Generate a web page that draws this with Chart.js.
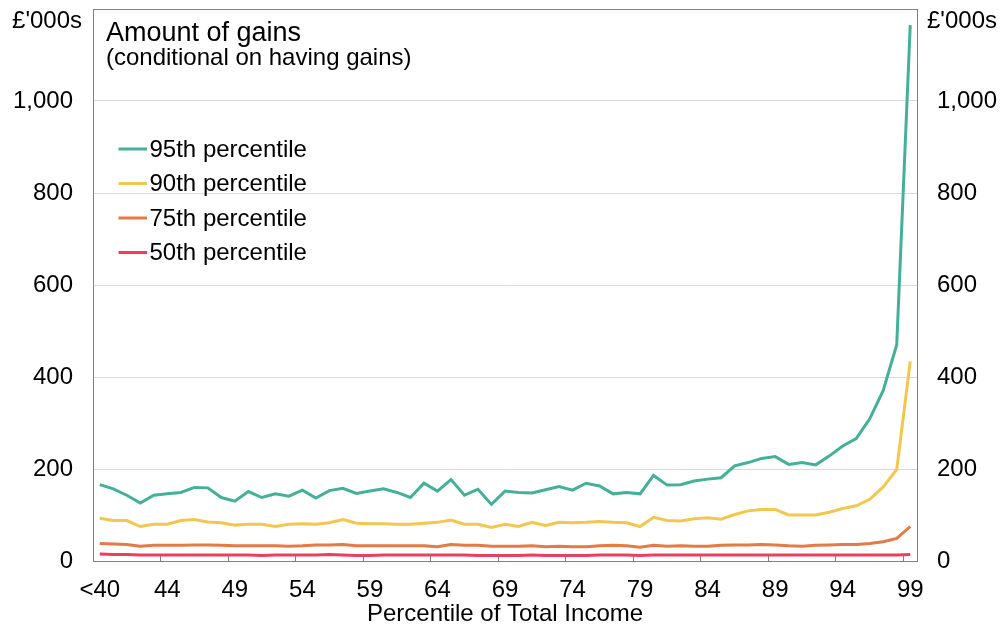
<!DOCTYPE html>
<html>
<head>
<meta charset="utf-8">
<script src="https://cdn.jsdelivr.net/npm/chart.js@4.4.1/dist/chart.umd.min.js"></script>
<style>
  html, body { margin: 0; padding: 0; background: #fff; }
  #wrap { width: 1004px; height: 629px; position: relative; }
</style>
</head>
<body>
<div id="wrap"><canvas id="gainsChart"></canvas></div>
<script>
const FONT = "'Liberation Sans', Arial, sans-serif";

const TITLE = "Amount of gains";
const SUBTITLE = "(conditional on having gains)";
const UNITS = "£'000s";
const X_TITLE = "Percentile of Total Income";

const categories = [
    "<40", "40", "41", "42", "43", "44", "45", "46", "47", "48",
    "49", "50", "51", "52", "53", "54", "55", "56", "57", "58",
    "59", "60", "61", "62", "63", "64", "65", "66", "67", "68",
    "69", "70", "71", "72", "73", "74", "75", "76", "77", "78",
    "79", "80", "81", "82", "83", "84", "85", "86", "87", "88",
    "89", "90", "91", "92", "93", "94", "95", "96", "97", "98",
    "99"
];

const seriesNames = ["95th percentile", "90th percentile", "75th percentile", "50th percentile"];
const seriesColors = ["#45b098", "#f3c64f", "#e47a45", "#ec3f5f"];

const p95 = [
    166, 157, 143, 126, 143, 146, 149, 160, 159, 138,
    130, 151, 138, 146, 141, 154, 137, 153, 158, 147,
    152, 157, 149, 138, 169, 152, 177, 143, 156, 123,
    152, 149, 148, 155, 162, 154, 169, 163, 146, 149,
    146, 186, 165, 166, 174, 178, 181, 207, 214, 223,
    227, 210, 214, 209, 228, 250, 266, 309, 371, 470,
    1165
];
const p90 = [
    93, 88, 88, 75, 80, 80, 88, 90, 85, 83,
    78, 80, 80, 75, 80, 81, 80, 83, 90, 82,
    81, 81, 80, 80, 82, 84, 89, 80, 80, 73,
    80, 75, 84, 77, 84, 83, 84, 86, 84, 83,
    75, 95, 88, 87, 92, 94, 91, 101, 109, 112,
    112, 100, 100, 100, 106, 114, 120, 134, 161, 199,
    434
];
const p75 = [
    38, 37, 36, 32, 34, 34, 34, 35, 35, 34,
    33, 33, 33, 33, 32, 33, 35, 35, 36, 33,
    33, 33, 33, 33, 33, 31, 36, 34, 34, 32,
    32, 32, 33, 31, 32, 31, 31, 33, 34, 33,
    30, 34, 32, 33, 32, 32, 34, 35, 35, 36,
    35, 33, 32, 34, 35, 36, 36, 38, 42, 49,
    75
];
const p50 = [
    15, 14, 14, 13, 13, 13, 13, 13, 13, 13,
    13, 13, 12, 13, 13, 13, 13, 14, 13, 12,
    12, 13, 13, 13, 13, 13, 13, 13, 12, 12,
    12, 12, 13, 12, 12, 12, 12, 13, 13, 13,
    12, 13, 13, 13, 13, 13, 13, 13, 13, 13,
    13, 13, 13, 13, 13, 13, 13, 13, 13, 13,
    14
];

const yTicks = [0, 200, 400, 600, 800, 1000, 1200];

// titles, unit labels, legend and top border drawn inside the plot box
const overlayText = {
    id: "overlayText",
    beforeDatasetsDraw(chart) {
        const {ctx, chartArea: a} = chart;
        ctx.save();
        ctx.strokeStyle = "#808080";
        ctx.lineWidth = 1;
        ctx.beginPath();
        ctx.moveTo(a.left, Math.round(a.top) + 0.5);
        ctx.lineTo(a.right, Math.round(a.top) + 0.5);
        ctx.stroke();
        ctx.restore();
    },
    afterDraw(chart) {
        const {ctx, chartArea: a} = chart;
        ctx.save();
        ctx.fillStyle = "#000";
        ctx.textBaseline = "alphabetic";
        ctx.textAlign = "left";
        ctx.font = "27px " + FONT;
        ctx.fillText(TITLE, a.left + 13, a.top + 31.5);
        ctx.font = "24px " + FONT;
        ctx.fillText(SUBTITLE, a.left + 13, a.top + 56);

        ctx.textAlign = "right";
        ctx.fillText(UNITS, a.left - 11, a.top + 18.5);
        ctx.textAlign = "left";
        ctx.fillText(UNITS, a.right + 10, a.top + 18.5);

        ctx.textBaseline = "middle";
        chart.data.datasets.forEach((ds, i) => {
            const y = a.top + 140 + i * 34.5;
            ctx.strokeStyle = ds.borderColor;
            ctx.lineWidth = 3;
            ctx.beginPath();
            ctx.moveTo(a.left + 25.5, y);
            ctx.lineTo(a.left + 54, y);
            ctx.stroke();
            ctx.fillText(ds.label, a.left + 56.5, y + 1);
        });
        ctx.restore();
    }
};

function makeDataset(label, values, color) {
    return {
        label: label,
        data: values,
        borderColor: color,
        backgroundColor: color,
        borderWidth: 3,
        pointRadius: 0,
        pointHoverRadius: 0,
        tension: 0,
        fill: false
    };
}

function yAxis(position, width) {
    return {
        position: position,
        min: yTicks[0],
        max: yTicks[yTicks.length - 1],
        grid: {
            color: "#d9d9d9",
            lineWidth: 1,
            drawTicks: false,
            drawOnChartArea: position === "left"
        },
        border: {color: "#808080", width: 1},
        ticks: {
            stepSize: yTicks[1] - yTicks[0],
            padding: 20,
            color: "#000",
            font: {size: 24, family: FONT},
            callback: v => v === yTicks[yTicks.length - 1] ? "" : v.toLocaleString("en-GB")
        },
        afterFit: s => {
            s.width = width;
            s.paddingTop = 0;
            s.paddingBottom = 0;
        }
    };
}

window.addEventListener("load", () => {
    Chart.defaults.font.family = FONT;
    new Chart(document.getElementById("gainsChart"), {
        type: "line",
        data: {
            labels: categories,
            datasets: [
                makeDataset(seriesNames[0], p95, seriesColors[0]),
                makeDataset(seriesNames[1], p90, seriesColors[1]),
                makeDataset(seriesNames[2], p75, seriesColors[2]),
                makeDataset(seriesNames[3], p50, seriesColors[3])
            ]
        },
        options: {
            responsive: true,
            maintainAspectRatio: false,
            animation: false,
            layout: {padding: {top: 9, left: 0, right: 0, bottom: 0}},
            plugins: {
                legend: {display: false},
                tooltip: {enabled: false}
            },
            scales: {
                x: {
                    type: "category",
                    offset: true,
                    grid: {
                        offset: true,
                        drawOnChartArea: false,
                        drawTicks: true,
                        tickLength: -6,
                        tickColor: c => c.index % 5 === 0 ? "#808080" : "rgba(0,0,0,0)"
                    },
                    border: {color: "#808080", width: 1},
                    ticks: {
                        autoSkip: false,
                        maxRotation: 0,
                        minRotation: 0,
                        padding: 21,
                        color: "#000",
                        font: {size: 24, family: FONT},
                        callback: (v, i) => i % 5 === 0 ? categories[i] : ""
                    },
                    title: {
                        display: true,
                        text: X_TITLE,
                        color: "#000",
                        font: {size: 24, family: FONT},
                        padding: {top: 0, bottom: 0}
                    },
                    afterFit: s => {
                        s.height = 68;
                        s.paddingLeft = 0;
                        s.paddingRight = 0;
                    }
                },
                y: yAxis("left", 93),
                y2: yAxis("right", 87)
            }
        },
        plugins: [overlayText]
    });
});
</script>
</body>
</html>
